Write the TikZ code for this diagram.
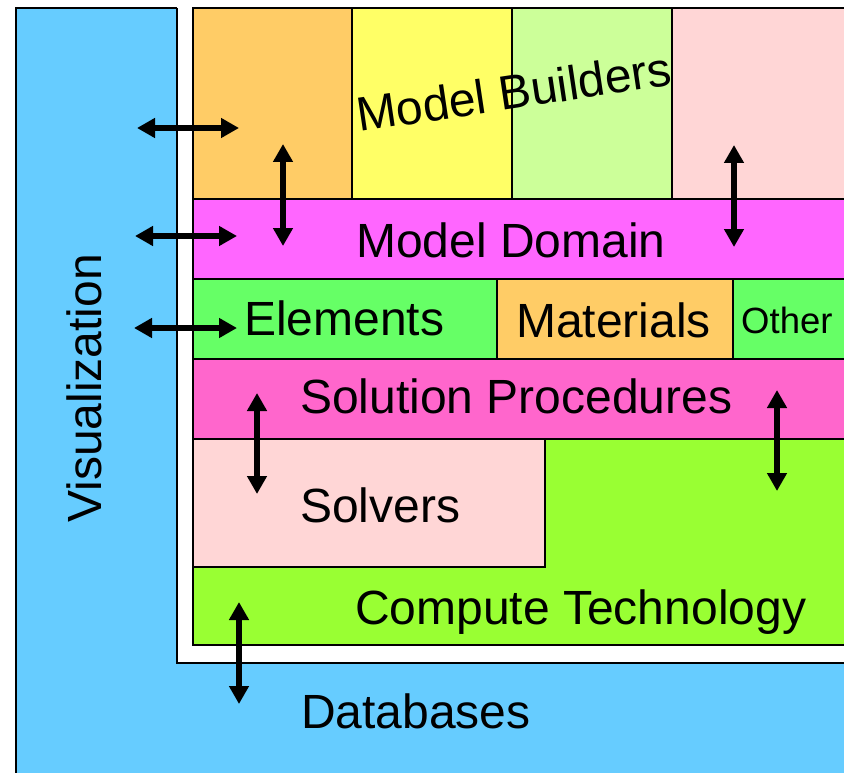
\documentclass[tikz,border=0pt]{standalone}
\usepackage{fontspec}
\setmainfont{Liberation Sans}
\usetikzlibrary{arrows.meta}

\definecolor{vizblue}{HTML}{66CCFF}
\definecolor{boxorange}{HTML}{FFCC66}
\definecolor{boxyellow}{HTML}{FFFF66}
\definecolor{boxlime}{HTML}{CCFF99}
\definecolor{boxpink}{HTML}{FFD6D6}
\definecolor{domainmag}{HTML}{FF66FF}
\definecolor{boxgreen}{HTML}{66FF66}
\definecolor{solpink}{HTML}{FF66CC}
\definecolor{computegreen}{HTML}{99FF33}

\tikzset{
  block/.style={draw=black, line width=1.6pt},
  label/.style={inner sep=0pt, anchor=base west, font=\fontsize{48}{57}\selectfont},
  smalllabel/.style={inner sep=0pt, anchor=base west, font=\fontsize{36.5}{44}\selectfont},
  dblarrow/.style={line width=5.5pt,
    {Triangle[width=19pt,length=18pt]}-{Triangle[width=19pt,length=18pt]}}
}

\begin{document}
\begin{tikzpicture}[x=1pt, y=-1pt]
  \clip (0,0) rectangle (844,773);
  \fill[white] (0,0) rectangle (844,773);

  % Visualization / Databases backdrop
  \path[block, fill=vizblue] (16,8) rectangle (900,820);
  % white frame holding the application stack (open at the top)
  \fill[white] (177,-20) rectangle (900,663);
  \draw[line width=1.6pt] (177,8) -- (177,663) -- (900,663);

  % Model builders row
  \path[block, fill=boxorange] (193,8) rectangle (352,199);
  \path[block, fill=boxyellow] (352,8) rectangle (512,199);
  \path[block, fill=boxlime]   (512,8) rectangle (672,199);
  \path[block, fill=boxpink]   (672,8) rectangle (900,199);

  % Model domain
  \path[block, fill=domainmag] (193,199) rectangle (900,279);

  % Elements / Materials / Other
  \path[block, fill=boxgreen]  (193,279) rectangle (497,359);
  \path[block, fill=boxorange] (497,279) rectangle (733,359);
  \path[block, fill=boxgreen]  (733,279) rectangle (900,359);

  % Solution procedures
  \path[block, fill=solpink] (193,359) rectangle (900,439);

  % Compute technology with solvers inset
  \path[block, fill=computegreen] (193,439) rectangle (900,645);
  \path[block, fill=boxpink] (193,439) rectangle (545,567);

  % Labels
  \node[label, rotate=8.5] (builders) at (359,132) {Model Builders};
  \node[label] (domain)    at (356,257) {Model Domain};
  \node[label] (elements)  at (244,335) {Elements};
  \node[label] (materials) at (516,337) {Materials};
  \node[smalllabel] (other) at (741,333) {Other};
  \node[label] (solproc)   at (300,413) {Solution Procedures};
  \node[label] (solvers)   at (300,522) {Solvers};
  \node[label] (compute)   at (355,624) {Compute Technology};
  \node[label] (databases) at (301,728) {Databases};
  \node[label, rotate=90] (viz) at (101,523) {Visualization};

  % Arrow end points
  \coordinate (h1a) at (137,128); \coordinate (h1b) at (239,128);
  \coordinate (h2a) at (135,236); \coordinate (h2b) at (237,236);
  \coordinate (h3a) at (134,328); \coordinate (h3b) at (237,328);
  \coordinate (v1a) at (283,144); \coordinate (v1b) at (283,246);
  \coordinate (v2a) at (734,145); \coordinate (v2b) at (734,247);
  \coordinate (v3a) at (257,393); \coordinate (v3b) at (257,494);
  \coordinate (v4a) at (777,390); \coordinate (v4b) at (777,491);
  \coordinate (v5a) at (239,602); \coordinate (v5b) at (239,704);

  % Interaction arrows
  \draw[dblarrow] (h1a) -- (h1b);
  \draw[dblarrow] (h2a) -- (h2b);
  \draw[dblarrow] (h3a) -- (h3b);
  \draw[dblarrow] (v1a) -- (v1b);
  \draw[dblarrow] (v2a) -- (v2b);
  \draw[dblarrow] (v3a) -- (v3b);
  \draw[dblarrow] (v4a) -- (v4b);
  \draw[dblarrow] (v5a) -- (v5b);
\end{tikzpicture}
\end{document}
